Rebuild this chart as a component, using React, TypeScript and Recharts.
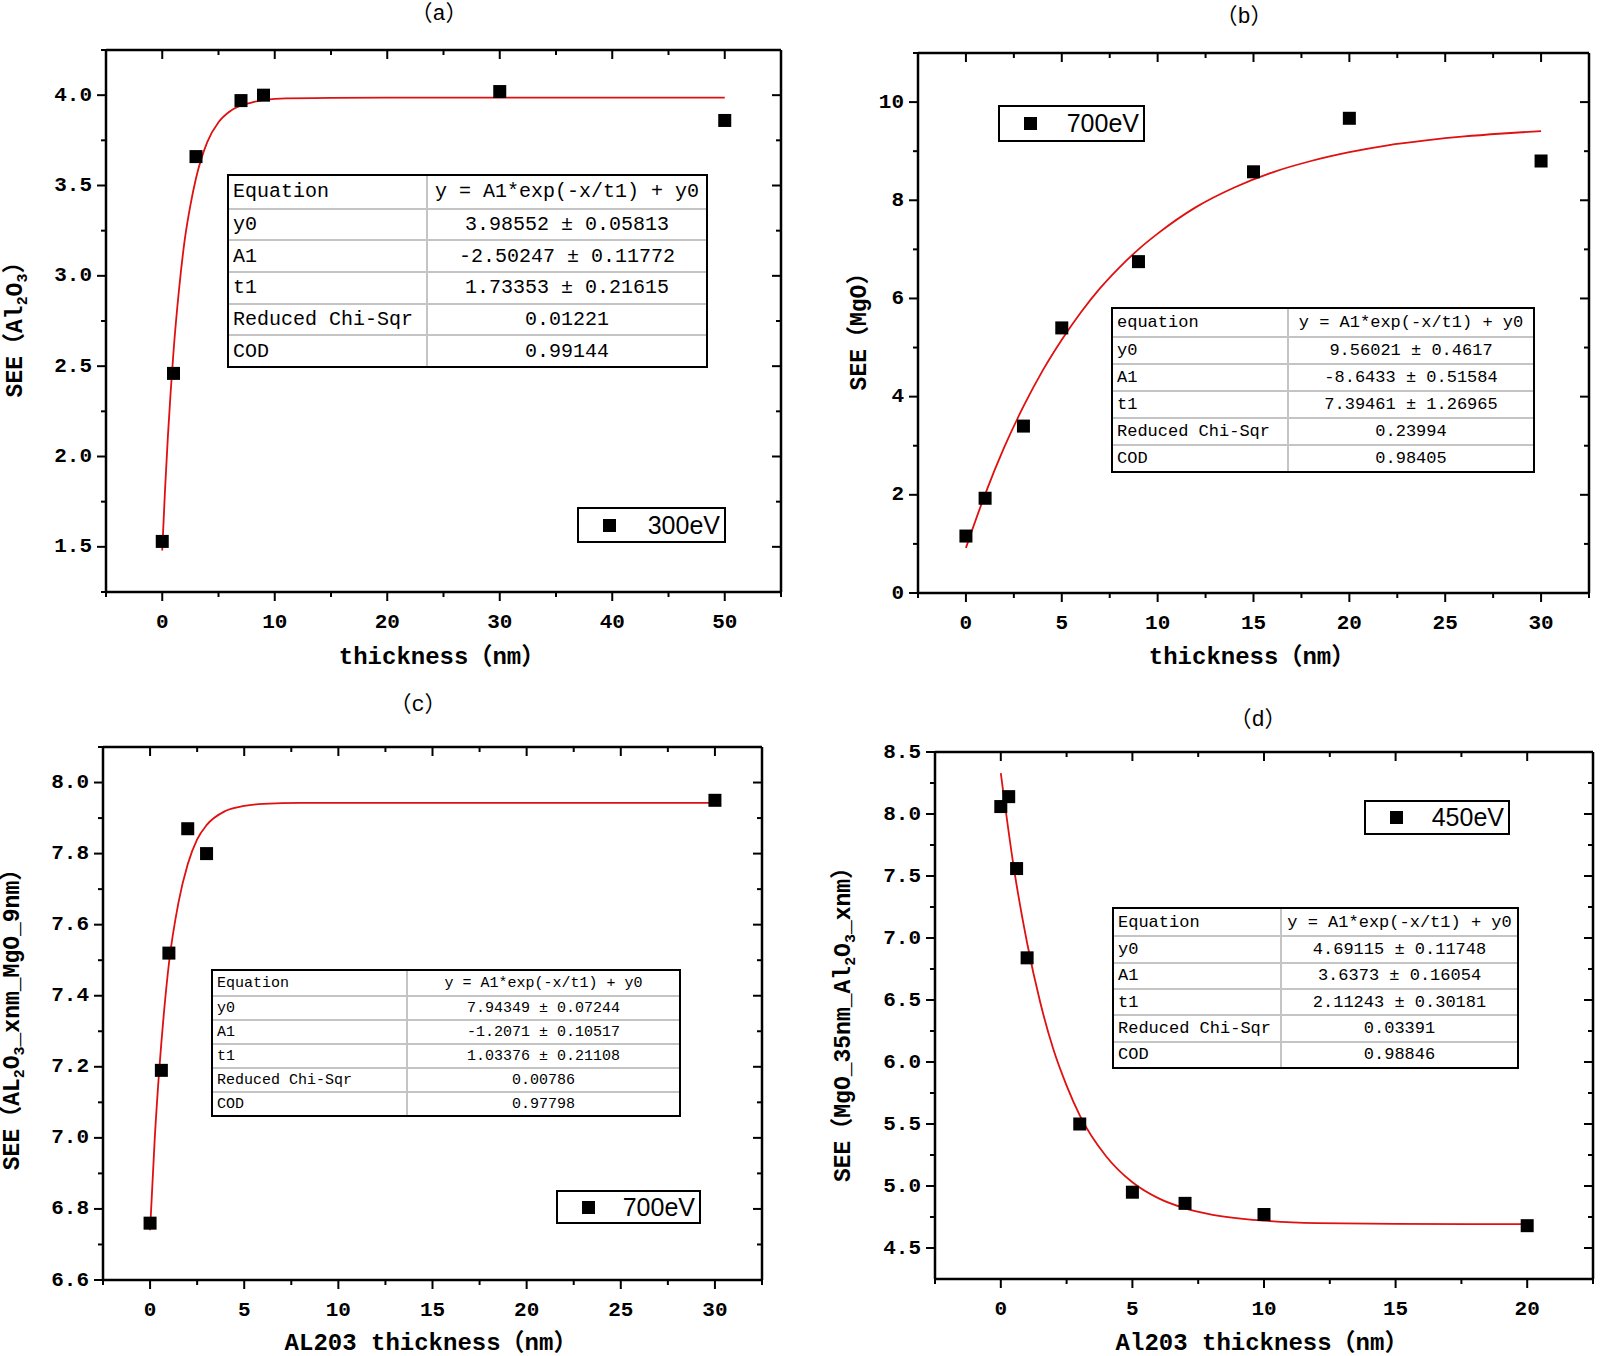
import React from 'react';
import { ComposedChart, Scatter, Line, XAxis, YAxis, Legend } from 'recharts';

// (a) Al2O3, 300 eV
const aThickness = [0, 1, 3, 7, 9, 30, 50];
const aSee = [1.53, 2.46, 3.66, 3.97, 4.0, 4.02, 3.86];
const aFitX = [0, 0.25, 0.5, 0.75, 1, 1.5, 2, 2.5, 3, 4, 5, 6, 8, 10, 15, 20, 30, 40, 50];
const aFitY = [1.48, 1.82, 2.11, 2.36, 2.58, 2.93, 3.2, 3.39, 3.54, 3.74, 3.85, 3.91, 3.96, 3.98, 3.985, 3.986, 3.986, 3.986, 3.986];
const aRows = [
  ['Equation', 'y = A1*exp(-x/t1) + y0'],
  ['y0', '3.98552 ± 0.05813'],
  ['A1', '-2.50247 ± 0.11772'],
  ['t1', '1.73353 ± 0.21615'],
  ['Reduced Chi-Sqr', '0.01221'],
  ['COD', '0.99144'],
];

// (b) MgO, 700 eV
const bThickness = [0, 1, 3, 5, 9, 15, 20, 30];
const bSee = [1.16, 1.93, 3.4, 5.4, 6.75, 8.58, 9.67, 8.8];
const bFitX = [0, 1, 2, 3, 4, 5, 6, 7, 8, 9, 10, 12, 14, 16, 18, 20, 22, 24, 26, 28, 30];
const bFitY = [0.92, 2.01, 2.97, 3.8, 4.53, 5.16, 5.72, 6.21, 6.63, 7.0, 7.32, 7.86, 8.26, 8.57, 8.8, 8.98, 9.12, 9.22, 9.3, 9.36, 9.41];
const bRows = [
  ['equation', 'y = A1*exp(-x/t1) + y0'],
  ['y0', '9.56021 ± 0.4617'],
  ['A1', '-8.6433 ± 0.51584'],
  ['t1', '7.39461 ± 1.26965'],
  ['Reduced Chi-Sqr', '0.23994'],
  ['COD', '0.98405'],
];

// (c) Al2O3 on MgO 9nm, 700 eV
const cThickness = [0, 0.6, 1, 2, 3, 30];
const cSee = [6.76, 7.19, 7.52, 7.87, 7.8, 7.95];
const cFitX = [0, 0.25, 0.5, 0.75, 1, 1.5, 2, 2.5, 3, 4, 5, 6, 8, 12, 20, 30];
const cFitY = [6.74, 7.0, 7.2, 7.36, 7.49, 7.66, 7.77, 7.84, 7.88, 7.92, 7.934, 7.94, 7.943, 7.943, 7.943, 7.943];
const cRows = [
  ['Equation', 'y = A1*exp(-x/t1) + y0'],
  ['y0', '7.94349 ± 0.07244'],
  ['A1', '-1.2071 ± 0.10517'],
  ['t1', '1.03376 ± 0.21108'],
  ['Reduced Chi-Sqr', '0.00786'],
  ['COD', '0.97798'],
];

// (d) MgO 35nm under Al2O3, 450 eV
const dThickness = [0, 0.3, 0.6, 1, 3, 5, 7, 10, 20];
const dSee = [8.06, 8.14, 7.56, 6.84, 5.5, 4.95, 4.86, 4.77, 4.68];
const dFitX = [0, 0.5, 1, 1.5, 2, 2.5, 3, 4, 5, 6, 7, 8, 10, 12, 15, 20];
const dFitY = [8.33, 7.56, 6.96, 6.48, 6.1, 5.81, 5.57, 5.24, 5.03, 4.9, 4.82, 4.77, 4.72, 4.7, 4.694, 4.692];
const dRows = [
  ['Equation', 'y = A1*exp(-x/t1) + y0'],
  ['y0', '4.69115 ± 0.11748'],
  ['A1', '3.6373 ± 0.16054'],
  ['t1', '2.11243 ± 0.30181'],
  ['Reduced Chi-Sqr', '0.03391'],
  ['COD', '0.98846'],
];

const FONT = "'Liberation Mono', 'Noto Sans CJK SC', monospace";
const AXIS = { stroke: '#000', strokeWidth: 2.5 };

const zip = (xs: number[], ys: number[]) => xs.map((x, i) => ({ x, y: ys[i] }));

const makeTick = (side: string, majors: number[], fmt?: (v: number) => string) => (props: any) => {
  const { x, y, payload } = props;
  const v = payload.value as number;
  const major = majors.some((m) => Math.abs(m - v) < 1e-6);
  const len = major ? 9 : 5;
  let line;
  if (side === 'bottom' || side === 'top') line = <line x1={x} y1={y} x2={x} y2={y + len} />;
  else line = <line x1={x} y1={y} x2={x - len} y2={y} />;
  const txt = { fontFamily: FONT, fontSize: 21, fontWeight: 700, fill: '#000' };
  return (
    <g>
      <g stroke="#000" strokeWidth={2}>{line}</g>
      {major && fmt && side === 'bottom' && (
        <text x={x} y={y + 30} textAnchor="middle" dominantBaseline="central" {...txt}>{fmt(v)}</text>
      )}
      {major && fmt && side === 'left' && (
        <text x={x - 14} y={y} textAnchor="end" dominantBaseline="central" {...txt}>{fmt(v)}</text>
      )}
    </g>
  );
};

const square = (props: any) => (
  <rect x={props.cx - 6.5} y={props.cy - 6.5} width={13} height={13} fill="#000" />
);

const LegendBox = (props: any) => {
  const item = (props.payload || []).find((e: any) => e.type !== 'none');
  return (
    <div style={{ width: props.w, height: props.h, border: '2px solid #000', boxSizing: 'border-box', position: 'relative', background: '#fff' }}>
      <div style={{ position: 'absolute', left: 24, top: props.h / 2 - 8.5, width: 13, height: 13, background: '#000' }} />
      <div style={{ position: 'absolute', right: 4, top: 0, height: props.h - 4, display: 'flex', alignItems: 'center', fontFamily: "'Liberation Sans', Arial, sans-serif", fontSize: 25, color: '#000' }}>
        {item ? item.value : ''}
      </div>
    </div>
  );
};

const FitTable = ({ rows, b }: any) => (
  <div style={{ position: 'absolute', left: b.x, top: b.y, width: b.w, height: b.h, border: '2px solid #000', boxSizing: 'border-box', display: 'grid', gridTemplateColumns: `${b.split - b.x - 2}px 1fr`, gridTemplateRows: `repeat(${rows.length}, 1fr)`, fontFamily: FONT, fontSize: b.font, color: '#000', background: '#fff' }}>
    {rows.map((r: string[], i: number) => [
      <div key={i + 'a'} style={{ borderTop: i ? '2px solid #c4c4c4' : 'none', display: 'flex', alignItems: 'center', paddingLeft: 4, whiteSpace: 'nowrap' }}>{r[0]}</div>,
      <div key={i + 'b'} style={{ borderTop: i ? '2px solid #c4c4c4' : 'none', borderLeft: '2px solid #c4c4c4', display: 'flex', alignItems: 'center', justifyContent: 'center', whiteSpace: 'nowrap' }}>{r[1]}</div>,
    ])}
  </div>
);

const Panel = ({ p }: any) => {
  const { box, plot, leg } = p;
  const xTicks = [...p.xMajor, ...p.xMinor].sort((a: number, b: number) => a - b);
  const yTicks = [...p.yMajor, ...p.yMinor].sort((a: number, b: number) => a - b);
  return (
    <div style={{ position: 'absolute', left: box.x, top: box.y }}>
      <ComposedChart
        width={box.w}
        height={box.h}
        margin={{ top: plot.t - box.y, right: box.x + box.w - plot.r, left: 0, bottom: 0 }}
      >
        <XAxis xAxisId="b" type="number" dataKey="x" domain={p.xDomain} ticks={xTicks} allowDataOverflow interval={0}
          height={box.y + box.h - plot.b} tickSize={0} tickMargin={0} tickLine={false} axisLine={AXIS}
          tick={makeTick('bottom', p.xMajor, (v) => String(v))} />
        <XAxis xAxisId="t" orientation="top" mirror type="number" dataKey="x" domain={p.xDomain} ticks={xTicks} allowDataOverflow interval={0}
          height={2} tickSize={0} tickMargin={0} tickLine={false} axisLine={AXIS} tick={makeTick('top', p.xMajor)} />
        <YAxis yAxisId="l" type="number" domain={p.yDomain} ticks={yTicks} allowDataOverflow interval={0}
          width={plot.l - box.x} tickSize={0} tickMargin={0} tickLine={false} axisLine={AXIS}
          tick={makeTick('left', p.yMajor, p.yFmt)} />
        <YAxis yAxisId="r" orientation="right" mirror type="number" domain={p.yDomain} ticks={yTicks} allowDataOverflow interval={0}
          width={2} tickSize={0} tickMargin={0} tickLine={false} axisLine={AXIS} tick={makeTick('right', p.yMajor)} />
        <Line xAxisId="b" yAxisId="l" data={p.fit} dataKey="y" type="monotone" stroke="#e01010" strokeWidth={1.8}
          dot={false} activeDot={false} legendType="none" isAnimationActive={false} />
        <Scatter xAxisId="b" yAxisId="l" data={p.points} dataKey="y" name={p.name} shape={square} legendType="square"
          isAnimationActive={false} />
        <Legend layout="vertical" align="center" verticalAlign="middle"
          wrapperStyle={{ left: leg.x - box.x, top: leg.y - box.y, width: leg.w, height: leg.h }}
          content={(props: any) => <LegendBox {...props} w={leg.w} h={leg.h} />} />
      </ComposedChart>
    </div>
  );
};

const range = (a: number, b: number, s: number) => {
  const out: number[] = [];
  for (let v = a; v <= b + 1e-9; v += s) out.push(Math.round(v * 1000) / 1000);
  return out;
};

const panels = [
  {
    id: 'a',
    box: { x: 0, y: 0, w: 800, h: 680 },
    plot: { l: 106, t: 50, r: 781, b: 592 },
    xDomain: [-5, 55], xMajor: [0, 10, 20, 30, 40, 50], xMinor: range(-5, 55, 10),
    yDomain: [1.25, 4.25], yMajor: range(1.5, 4.0, 0.5), yMinor: range(1.25, 4.25, 0.5), yFmt: (v: number) => v.toFixed(1),
    points: zip(aThickness, aSee), fit: zip(aFitX, aFitY), name: '300eV',
    leg: { x: 577, y: 507, w: 149, h: 36 },
    rows: aRows, table: { x: 227, y: 174, w: 481, h: 194, split: 426, font: 20 },
  },
  {
    id: 'b',
    box: { x: 800, y: 0, w: 800, h: 680 },
    plot: { l: 918, t: 53, r: 1589, b: 593 },
    xDomain: [-2.5, 32.5], xMajor: range(0, 30, 5), xMinor: range(-2.5, 32.5, 5),
    yDomain: [0, 11], yMajor: range(0, 10, 2), yMinor: range(1, 11, 2), yFmt: (v: number) => String(v),
    points: zip(bThickness, bSee), fit: zip(bFitX, bFitY), name: '700eV',
    leg: { x: 998, y: 105, w: 147, h: 37 },
    rows: bRows, table: { x: 1111, y: 307, w: 424, h: 166, split: 1287, font: 17 },
  },
  {
    id: 'c',
    box: { x: 0, y: 680, w: 800, h: 676 },
    plot: { l: 103, t: 747, r: 762, b: 1280 },
    xDomain: [-2.5, 32.5], xMajor: range(0, 30, 5), xMinor: range(-2.5, 32.5, 5),
    yDomain: [6.6, 8.1], yMajor: range(6.6, 8.0, 0.2), yMinor: range(6.7, 8.1, 0.2), yFmt: (v: number) => v.toFixed(1),
    points: zip(cThickness, cSee), fit: zip(cFitX, cFitY), name: '700eV',
    leg: { x: 556, y: 1190, w: 145, h: 34 },
    rows: cRows, table: { x: 211, y: 969, w: 470, h: 148, split: 406, font: 15 },
  },
  {
    id: 'd',
    box: { x: 800, y: 680, w: 800, h: 676 },
    plot: { l: 935, t: 752, r: 1593, b: 1279 },
    xDomain: [-2.5, 22.5], xMajor: range(0, 20, 5), xMinor: range(-2.5, 22.5, 5),
    yDomain: [4.25, 8.5], yMajor: range(4.5, 8.5, 0.5), yMinor: range(4.75, 8.25, 0.5), yFmt: (v: number) => v.toFixed(1),
    points: zip(dThickness, dSee), fit: zip(dFitX, dFitY), name: '450eV',
    leg: { x: 1364, y: 800, w: 146, h: 35 },
    rows: dRows, table: { x: 1112, y: 907, w: 407, h: 162, split: 1280, font: 17 },
  },
];

const titleStyle: React.CSSProperties = {
  position: 'absolute', transform: 'translate(-50%, -50%)', whiteSpace: 'nowrap',
  fontFamily: FONT, fontSize: 24, fontWeight: 700, color: '#000', lineHeight: 1,
};
const yTitle = (x: number, y: number): React.CSSProperties => ({
  ...titleStyle, fontSize: 23, left: x, top: y, transform: 'translate(-50%, -50%) rotate(-90deg)',
});
const sub: React.CSSProperties = { fontSize: '0.65em', verticalAlign: '-0.3em' };

export default function App() {
  return (
    <div style={{ position: 'absolute', left: 0, top: 0, width: 1600, height: 1356, background: '#fff', overflow: 'hidden' }}>
      {panels.map((p) => (
        <Panel key={p.id} p={p} />
      ))}
      {panels.map((p) => (
        <FitTable key={'t' + p.id} rows={p.rows} b={p.table} />
      ))}

      <div style={{ ...titleStyle, fontSize: 22, fontWeight: 400, left: 439, top: 15 }}>（a）</div>
      <div style={{ ...titleStyle, fontSize: 22, fontWeight: 400, left: 1244, top: 18 }}>（b）</div>
      <div style={{ ...titleStyle, fontSize: 22, fontWeight: 400, left: 418, top: 706 }}>（c）</div>
      <div style={{ ...titleStyle, fontSize: 22, fontWeight: 400, left: 1258, top: 721 }}>（d）</div>

      <div style={{ ...titleStyle, left: 442, top: 658 }}>thickness（nm）</div>
      <div style={{ ...titleStyle, left: 1252, top: 658 }}>thickness（nm）</div>
      <div style={{ ...titleStyle, left: 431, top: 1344 }}>AL203 thickness（nm）</div>
      <div style={{ ...titleStyle, left: 1262, top: 1344 }}>Al203 thickness（nm）</div>

      <div style={yTitle(18, 324)}>
        SEE（Al<span style={sub}>2</span>O<span style={sub}>3</span>）
      </div>
      <div style={yTitle(860, 326)}>SEE（MgO）</div>
      <div style={yTitle(15, 1014)}>
        SEE（AL<span style={sub}>2</span>O<span style={sub}>3</span>_xnm_MgO_9nm）
      </div>
      <div style={yTitle(846, 1019)}>
        SEE（MgO_35nm_Al<span style={sub}>2</span>O<span style={sub}>3</span>_xnm）
      </div>
    </div>
  );
}
